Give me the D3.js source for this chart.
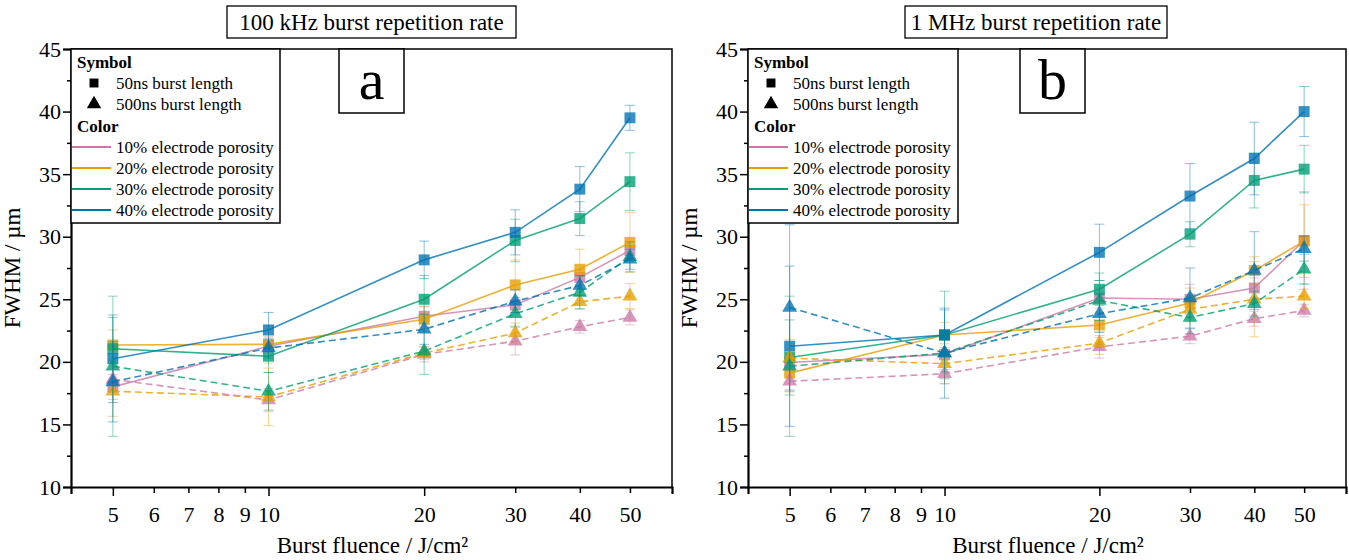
<!DOCTYPE html>
<html>
<head>
<meta charset="utf-8">
<script src="https://cdn.jsdelivr.net/npm/d3@7"></script>
<style>
  body { margin: 0; background: #fff; }
  svg { display: block; font-family: "Liberation Serif", "Times New Roman", serif; }
</style>
</head>
<body>
<svg id="chart" width="1349" height="560"></svg>
<script>
// burst fluence values (J/cm2)
var fluence = [5, 10, 20, 30, 40, 50];
var porosity = ["10% electrode porosity", "20% electrode porosity", "30% electrode porosity", "40% electrode porosity"];
var colors = ["#CC79A7", "#E69F00", "#009E73", "#0072B2"];
var xTicks = [5, 6, 7, 8, 9, 10, 20, 30, 40, 50];
var yTicks = [10, 15, 20, 25, 30, 35, 40, 45];

// 100 kHz, 50ns (squares) - rows: 10%, 20%, 30%, 40%
var aSquare = [
  [18.0, 21.25, 23.65, 24.55, 26.75, 28.9],
  [21.35, 21.4, 23.4, 26.15, 27.4, 29.55],
  [21.05, 20.45, 25.0, 29.7, 31.45, 34.4],
  [20.25, 22.55, 28.15, 30.35, 33.8, 39.5]
];
var aSquareErr = [
  [1.0, 0.8, 0.8, 0.6, 0.6, 0.6],
  [1.2, 1.5, 1.0, 2.0, 1.6, 2.4],
  [2.5, 1.3, 1.9, 1.7, 1.35, 2.3],
  [3.5, 1.4, 1.5, 1.8, 1.8, 1.0]
];
// 100 kHz, 500ns (triangles)
var aTriangle = [
  [18.6, 16.95, 20.6, 21.65, 22.8, 23.55],
  [17.65, 17.2, 20.7, 22.3, 24.8, 25.25],
  [19.65, 17.65, 20.85, 23.85, 25.55, 28.4],
  [18.4, 21.1, 22.6, 24.85, 26.1, 28.2]
];
var aTriangleErr = [
  [0.8, 0.9, 0.6, 1.1, 0.5, 0.6],
  [2.0, 2.3, 0.5, 0.8, 0.6, 1.0],
  [5.6, 1.5, 1.85, 1.0, 1.3, 1.2],
  [3.2, 0.8, 1.2, 0.9, 0.8, 0.8]
];

// 1 MHz, 50ns (squares)
var bSquare = [
  [19.95, 20.6, 25.1, 25.0, 25.9, 29.7],
  [19.1, 22.15, 22.95, 24.7, 27.3, 29.65],
  [20.35, 22.15, 25.8, 30.2, 34.5, 35.4],
  [21.25, 22.15, 28.75, 33.25, 36.25, 40.0]
];
var bSquareErr = [
  [1.0, 1.2, 0.8, 1.2, 0.8, 3.9],
  [1.5, 1.0, 1.0, 1.2, 1.1, 2.9],
  [3.0, 3.5, 1.3, 1.0, 2.2, 1.9],
  [6.4, 2.0, 2.25, 2.6, 2.9, 2.0]
];
// 1 MHz, 500ns (triangles)
var bTriangle = [
  [18.45, 19.05, 21.2, 22.05, 23.45, 24.1],
  [20.3, 19.85, 21.5, 24.2, 25.0, 25.25],
  [19.65, 20.7, 24.9, 23.55, 24.65, 27.4],
  [24.35, 20.7, 23.85, 25.1, 27.3, 29.05]
];
var bTriangleErr = [
  [0.8, 0.8, 0.9, 0.6, 0.6, 0.5],
  [1.5, 1.6, 0.9, 1.0, 3.0, 1.0],
  [5.6, 1.5, 1.6, 1.3, 1.0, 1.2],
  [6.6, 3.6, 1.5, 2.4, 3.1, 1.0]
];

var svg = d3.select("#chart");

function drawPanel(opt) {
  var x = d3.scaleLog().domain([4.15, 60.3]).range([opt.x0, opt.x1]);
  var y = d3.scaleLinear().domain([10, 45]).range([487, 49]);
  var g = svg.append("g");

  // frame (top + right)
  g.append("path")
    .attr("d", "M" + opt.x0 + "," + y(45) + "H" + opt.x1 + "V" + y(10))
    .attr("fill", "none").attr("stroke", "#000").attr("stroke-width", 1.5);

  // y axis
  var yAxis = g.append("g")
    .attr("transform", "translate(" + opt.x0 + ",0)")
    .call(d3.axisLeft(y).tickValues(d3.range(10, 45.1, 2.5)).tickSize(8).tickFormat(function(d) {
      return d % 5 == 0 ? d : "";
    }));
  yAxis.selectAll(".tick line").attr("x2", function(d) { return d % 5 == 0 ? -8 : -4; }).attr("stroke-width", 1.5);
  yAxis.select(".domain").attr("stroke-width", 2.2);
  yAxis.selectAll("text").attr("font-size", 22).attr("font-family", "Liberation Serif").attr("fill", "#000").attr("x", -10);

  // x axis
  var xAxis = g.append("g")
    .attr("transform", "translate(0," + y(10) + ")")
    .call(d3.axisBottom(x).tickValues(xTicks).tickSize(7).tickFormat(d3.format("d")));
  xAxis.selectAll(".tick line").attr("y2", function(d) { return (d == 5 || d == 10 || d == 20) ? 9 : 6; }).attr("stroke-width", 1.5);
  xAxis.select(".domain").attr("stroke-width", 2.2);
  xAxis.selectAll("text").attr("font-size", 22).attr("font-family", "Liberation Serif").attr("fill", "#000").attr("y", 19);

  // axis titles
  g.append("text").attr("x", (opt.x0 + opt.x1) / 2 + 1).attr("y", 553)
    .attr("text-anchor", "middle").attr("font-size", 23).text("Burst fluence / J/cm\u00b2");
  g.append("text").attr("transform", "translate(" + (opt.x0 - 51) + "," + ((y(10) + y(45)) / 2) + ") rotate(-90)")
    .attr("text-anchor", "middle").attr("font-size", 23).text("FWHM / \u00b5m");

  // title box
  g.append("rect").attr("x", opt.titleX).attr("y", 6).attr("width", opt.titleW).attr("height", 32)
    .attr("fill", "#fff").attr("stroke", "#000").attr("stroke-width", 1.3);
  g.append("text").attr("x", opt.titleX + opt.titleW / 2).attr("y", 30)
    .attr("text-anchor", "middle").attr("font-size", 23).text(opt.title);

  // letter box
  g.append("rect").attr("x", opt.letterX).attr("y", 49).attr("width", 65).attr("height", 64)
    .attr("fill", "#fff").attr("stroke", "#000").attr("stroke-width", 1.5);
  g.append("text").attr("x", opt.letterX + 32.5).attr("y", 99)
    .attr("text-anchor", "middle").attr("font-size", 58).text(opt.letter);

  var line = d3.line().x(function(d, i) { return x(fluence[i]); }).y(function(d) { return y(d); });

  function series(vals, errs, color, dashed, sym, size) {
    var s = g.append("g");
    s.selectAll(".err").data(vals).enter().append("path")
      .attr("d", function(d, i) {
        var cx = x(fluence[i]), t = y(d + errs[i]), b = y(d - errs[i]);
        return "M" + (cx - 5) + "," + t + "H" + (cx + 5) + "M" + cx + "," + t + "V" + b + "M" + (cx - 5) + "," + b + "H" + (cx + 5);
      })
      .attr("stroke", color).attr("stroke-opacity", 0.45).attr("stroke-width", 1).attr("fill", "none");
    s.append("path").datum(vals).attr("d", line)
      .attr("fill", "none").attr("stroke", color).attr("stroke-opacity", 0.8).attr("stroke-width", 1.6)
      .attr("stroke-dasharray", dashed ? "7,4" : null);
    s.selectAll(".mk").data(vals).enter().append("path")
      .attr("transform", function(d, i) { return "translate(" + x(fluence[i]) + "," + y(d) + ")"; })
      .attr("d", d3.symbol().type(sym).size(size))
      .attr("fill", color).attr("fill-opacity", 0.78);
  }

  for (var k = 0; k < 4; k++) series(opt.sq[k], opt.sqErr[k], colors[k], false, d3.symbolSquare, 120);
  for (var k = 0; k < 4; k++) series(opt.tr[k], opt.trErr[k], colors[k], true, d3.symbolTriangle, 95);

  // legend
  var lg = g.append("g").attr("transform", "translate(" + opt.x0 + "," + y(45) + ")");
  lg.append("rect").attr("x", 0).attr("y", 0).attr("width", opt.legendW).attr("height", 174)
    .attr("fill", "#fff").attr("stroke", "#000").attr("stroke-width", 1.5);
  lg.append("text").attr("x", 6).attr("y", 19).attr("font-size", 17).attr("font-weight", "bold").text("Symbol");
  lg.append("path").attr("transform", "translate(23,34)").attr("d", d3.symbol().type(d3.symbolSquare).size(80)).attr("fill", "#000");
  lg.append("text").attr("x", 45).attr("y", 40).attr("font-size", 17).text("50ns burst length");
  lg.append("path").attr("transform", "translate(23,55)").attr("d", d3.symbol().type(d3.symbolTriangle).size(90)).attr("fill", "#000");
  lg.append("text").attr("x", 45).attr("y", 61).attr("font-size", 17).text("500ns burst length");
  lg.append("text").attr("x", 6).attr("y", 83).attr("font-size", 17).attr("font-weight", "bold").text("Color");
  porosity.forEach(function(p, i) {
    var yy = 98 + i * 21;
    lg.append("line").attr("x1", 1).attr("x2", 40).attr("y1", yy).attr("y2", yy)
      .attr("stroke", colors[i]).attr("stroke-width", 2.2);
    lg.append("text").attr("x", 45).attr("y", yy + 6).attr("font-size", 17).text(p);
  });
}

drawPanel({ x0: 71, x1: 672, title: "100 kHz burst repetition rate", titleX: 227, titleW: 289,
  letter: "a", letterX: 339, legendW: 209,
  sq: aSquare, sqErr: aSquareErr, tr: aTriangle, trErr: aTriangleErr });
drawPanel({ x0: 748, x1: 1346, title: "1 MHz burst repetition rate", titleX: 905, titleW: 262,
  letter: "b", letterX: 1020, legendW: 210,
  sq: bSquare, sqErr: bSquareErr, tr: bTriangle, trErr: bTriangleErr });
</script>
</body>
</html>
